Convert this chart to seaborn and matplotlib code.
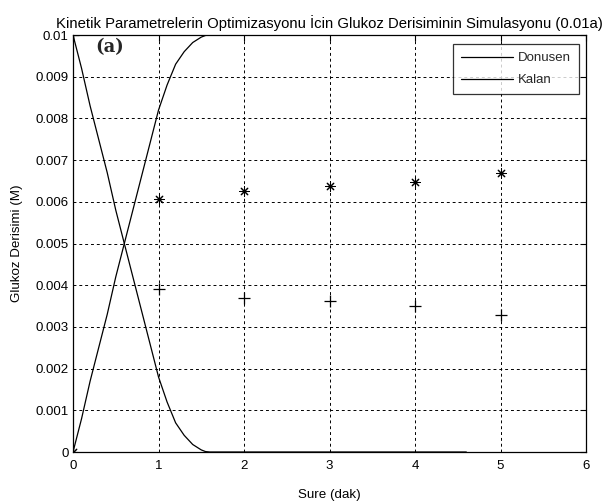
import matplotlib
matplotlib.use("Agg")
import matplotlib.pyplot as plt
import seaborn as sns

# simulated concentration curves (M) over time (min)
t_sim = [0.0, 0.1, 0.2, 0.3, 0.4, 0.5, 0.6, 0.7, 0.8, 0.9, 1.0, 1.1, 1.2,
         1.3, 1.4, 1.5, 1.55, 1.6, 2.0, 2.5, 3.0, 3.5, 4.0, 4.5, 4.6]
kalan_sim = [0.0100, 0.0092, 0.0083, 0.0075, 0.0067, 0.0058, 0.0050, 0.0042,
             0.0034, 0.0026, 0.0018, 0.0012, 0.0007, 0.0004, 0.00018, 0.00005,
             0.00001, 0.0, 0.0, 0.0, 0.0, 0.0, 0.0, 0.0, 0.0]
donusen_sim = [0.0000, 0.0008, 0.0017, 0.0025, 0.0033, 0.0042, 0.0050, 0.0058,
               0.0066, 0.0074, 0.0082, 0.0088, 0.0093, 0.0096, 0.00982, 0.00995,
               0.00999, 0.0100, 0.0100, 0.0100, 0.0100, 0.0100, 0.0100, 0.0100,
               0.0100]

# measured points
t_exp = [0, 1, 2, 3, 4, 5]
donusen_exp = [0.0, 0.00607, 0.00627, 0.00637, 0.00647, 0.00669]
kalan_exp = [0.0100, 0.00392, 0.00369, 0.00362, 0.00350, 0.00328]

title = "Kinetik Parametrelerin Optimizasyonu \u0130cin Glukoz Derisiminin Simulasyonu (0.01a)"
xlabel = "Sure (dak)"
ylabel = "Glukoz Derisimi (M)"
xticks = [0, 1, 2, 3, 4, 5, 6]
yticks = [0, 0.001, 0.002, 0.003, 0.004, 0.005, 0.006, 0.007, 0.008, 0.009, 0.01]
ytick_labels = ["0", "0.001", "0.002", "0.003", "0.004", "0.005", "0.006",
                "0.007", "0.008", "0.009", "0.01"]

sns.set_theme(style="white")
plt.rcParams["font.family"] = ["Liberation Sans", "DejaVu Sans"]

fig = plt.figure(figsize=(6.10, 5.01), dpi=100)
ax = fig.add_axes([0.1197, 0.0978, 0.8410, 0.8323])

sns.lineplot(x=t_sim, y=donusen_sim, ax=ax, color="black", lw=0.9,
             label="Donusen", sort=False, estimator=None)
sns.lineplot(x=t_sim, y=kalan_sim, ax=ax, color="black", lw=0.9,
             label="Kalan", sort=False, estimator=None)
sns.scatterplot(x=t_exp, y=donusen_exp, ax=ax, marker=(8, 2, 0), color="black",
                s=45, linewidth=0.75, edgecolor="black", legend=False, zorder=4)
sns.scatterplot(x=t_exp, y=kalan_exp, ax=ax, marker="+", color="black",
                s=70, linewidth=0.9, legend=False, zorder=4)

ax.set_xlim(0, 6)
ax.set_ylim(0, 0.01)
ax.set_xticks(xticks)
ax.set_yticks(yticks)
ax.set_yticklabels(ytick_labels)
ax.tick_params(direction="in", length=4, width=0.8, top=True, right=True,
               labelsize=9.5, colors="black")
ax.tick_params(axis="x", pad=6)
ax.tick_params(axis="y", pad=3)
for sp in ax.spines.values():
    sp.set_color("black")
    sp.set_linewidth(0.9)
ax.grid(True, color="black", linestyle=(0, (3, 3)), linewidth=0.7)

ax.set_title(title, fontsize=10.7, pad=5, color="black")
ax.set_xlabel(xlabel, fontsize=9.6, labelpad=12, color="black")
ax.set_ylabel(ylabel, fontsize=9.6, labelpad=9, color="black")

ax.text(0.43, 0.0097, "(a)", fontsize=13, fontweight="bold",
        family="DejaVu Serif", ha="center", va="center")

leg = ax.legend(loc="upper right", fontsize=9.5, frameon=True, fancybox=False,
                handlelength=3.9, handletextpad=0.4, borderpad=0.6,
                labelspacing=0.75, borderaxespad=0,
                bbox_to_anchor=(0.986, 0.978))
leg.get_frame().set_edgecolor("black")
leg.get_frame().set_linewidth(0.9)

fig.savefig("out.png", dpi=100)
